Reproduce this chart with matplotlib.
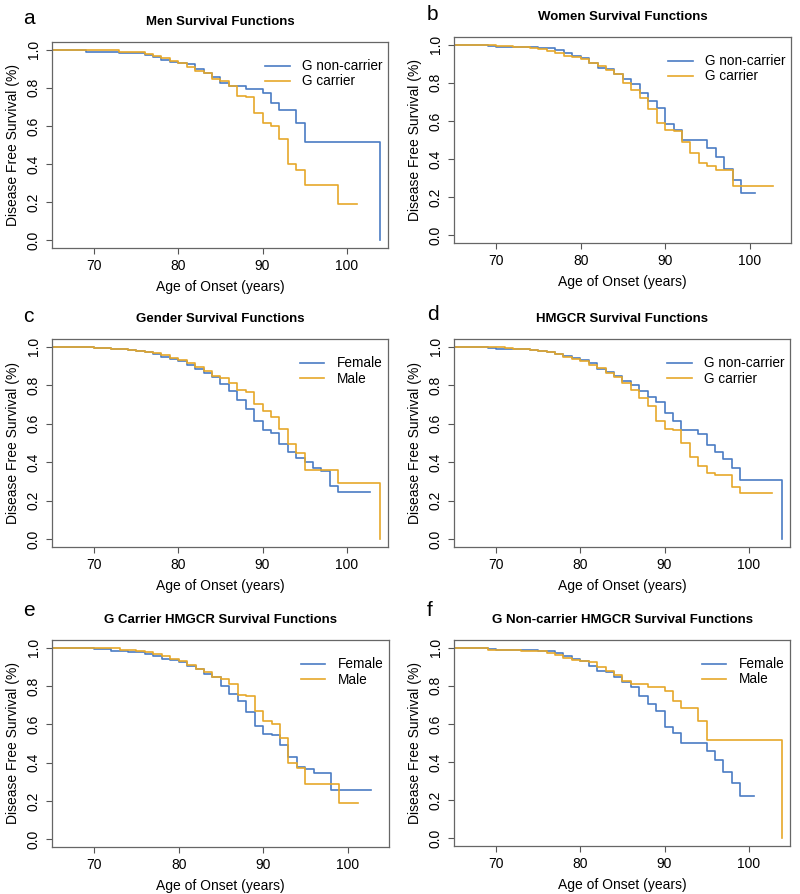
import numpy as np
import matplotlib.pyplot as plt

plt.rcParams['font.family'] = ['Liberation Sans', 'DejaVu Sans']

# Men, G non-carrier (panel a blue, panel f male)
men_nc_t = [65, 69, 73, 76, 77, 78, 79, 80, 81, 82, 83, 84, 85, 86, 88, 90, 91, 92, 94, 95, 104]
men_nc_s = [1.0, 0.99, 0.98, 0.97, 0.96, 0.945, 0.935, 0.93, 0.925, 0.90, 0.875, 0.855, 0.825, 0.81,
            0.795, 0.775, 0.72, 0.685, 0.615, 0.515, 0.0]
# Men, G carrier (panel a orange, panel e male)
men_c_t = [65, 73, 75, 76, 77, 78, 79, 80, 81, 82, 83, 84, 85, 86, 87, 88, 89, 90, 91, 92, 93, 94,
           95, 99, 101.2]
men_c_s = [1.0, 0.99, 0.985, 0.975, 0.965, 0.955, 0.94, 0.93, 0.91, 0.89, 0.875, 0.845, 0.835, 0.81,
           0.755, 0.75, 0.67, 0.615, 0.60, 0.53, 0.40, 0.37, 0.29, 0.19, 0.19]
# Women, G non-carrier (panel b blue, panel f female)
wom_nc_t = [65, 69, 70, 71, 75, 77, 78, 79, 80, 81, 82, 83, 84, 85, 86, 87, 88, 89, 90, 91, 92,
            95, 96, 97, 98, 99, 100.6]
wom_nc_s = [1.0, 0.995, 0.99, 0.985, 0.98, 0.97, 0.955, 0.94, 0.93, 0.905, 0.875, 0.87, 0.845,
            0.82, 0.795, 0.745, 0.705, 0.67, 0.585, 0.555, 0.50, 0.46, 0.41, 0.35, 0.29, 0.22, 0.22]
# Women, G carrier (panel b orange, panel e female)
wom_c_t = [65, 70, 72, 74, 75, 76, 77, 78, 79, 80, 81, 82, 83, 84, 85, 86, 87, 88, 89, 90, 91, 92,
           93, 94, 95, 96, 98, 102.8]
wom_c_s = [1.0, 0.993, 0.985, 0.98, 0.975, 0.965, 0.955, 0.94, 0.935, 0.925, 0.905, 0.89, 0.865,
           0.845, 0.80, 0.76, 0.72, 0.665, 0.59, 0.55, 0.545, 0.49, 0.43, 0.38, 0.365, 0.345, 0.26, 0.26]
# Gender, all (panel c)
fem_t = [65, 70, 72, 74, 75, 76, 77, 78, 79, 80, 81, 82, 83, 84, 85, 86, 87, 88, 89, 90, 91, 92,
         93, 94, 95, 96, 97, 98, 99, 102.8]
fem_s = [1.0, 0.995, 0.99, 0.985, 0.98, 0.97, 0.96, 0.945, 0.935, 0.925, 0.905, 0.885, 0.865,
         0.845, 0.805, 0.77, 0.725, 0.675, 0.615, 0.565, 0.55, 0.495, 0.455, 0.42, 0.40, 0.37,
         0.355, 0.275, 0.245, 0.245]
male_t = [65, 70, 72, 74, 75, 76, 77, 78, 79, 80, 81, 82, 83, 84, 85, 86, 87, 88, 89, 90, 91, 92,
          93, 94, 95, 99, 104]
male_s = [1.0, 0.995, 0.99, 0.985, 0.98, 0.975, 0.965, 0.955, 0.94, 0.93, 0.915, 0.895, 0.875,
          0.85, 0.835, 0.812, 0.775, 0.765, 0.705, 0.665, 0.635, 0.575, 0.495, 0.45, 0.36, 0.29, 0.0]
# HMGCR, all (panel d)
hm_nc_t = [65, 69, 70, 72, 74, 75, 76, 77, 78, 79, 80, 81, 82, 83, 84, 85, 86, 87, 88, 89, 90, 91,
           92, 94, 95, 96, 97, 98, 99, 104]
hm_nc_s = [1.0, 0.995, 0.99, 0.987, 0.983, 0.977, 0.97, 0.96, 0.95, 0.94, 0.93, 0.915, 0.885,
           0.87, 0.85, 0.82, 0.80, 0.77, 0.74, 0.715, 0.655, 0.615, 0.565, 0.545, 0.49, 0.455,
           0.415, 0.37, 0.31, 0.0]
hm_c_t = [65, 71, 72, 74, 75, 76, 77, 78, 79, 80, 81, 82, 83, 84, 85, 86, 87, 88, 89, 90, 91, 92,
          93, 94, 95, 96, 98, 99, 102.8]
hm_c_s = [1.0, 0.995, 0.99, 0.982, 0.978, 0.97, 0.96, 0.945, 0.935, 0.925, 0.905, 0.89, 0.865,
          0.845, 0.81, 0.775, 0.735, 0.69, 0.615, 0.575, 0.565, 0.50, 0.425, 0.38, 0.345, 0.335,
          0.27, 0.24, 0.24]

letters = ['a', 'b', 'c', 'd', 'e', 'f']
titles = ['Men Survival Functions', 'Women Survival Functions', 'Gender Survival Functions',
          'HMGCR Survival Functions', 'G Carrier HMGCR Survival Functions',
          'G Non-carrier HMGCR Survival Functions']
legends = [['G non-carrier', 'G carrier'], ['G non-carrier', 'G carrier'], ['Female', 'Male'],
           ['G non-carrier', 'G carrier'], ['Female', 'Male'], ['Female', 'Male']]
curves = [[(men_nc_t, men_nc_s), (men_c_t, men_c_s)],
          [(wom_nc_t, wom_nc_s), (wom_c_t, wom_c_s)],
          [(fem_t, fem_s), (male_t, male_s)],
          [(hm_nc_t, hm_nc_s), (hm_c_t, hm_c_s)],
          [(wom_c_t, wom_c_s), (men_c_t, men_c_s)],
          [(wom_nc_t, wom_nc_s), (men_nc_t, men_nc_s)]]

blue = '#4a7cc4'
orange = '#e6a82a'
W, H = 800, 894
# axes boxes in pixels: left, top, right, bottom
boxes = [(52, 42, 388, 248), (454, 37, 791, 243),
         (52, 339, 388, 547), (454, 339, 790, 547),
         (52, 640, 389, 847), (454, 640, 790, 846)]
letter_pos = [(23, 18), (427, 15), (23, 317), (427, 315), (23, 610), (427, 610)]

fig = plt.figure(figsize=(8, 8.94), dpi=100)
for i in range(6):
    l, t, r, b = boxes[i]
    ax = fig.add_axes([l / W, 1 - b / H, (r - l) / W, (b - t) / H])
    for (tt, ss), col, lab in zip(curves[i], [blue, orange], legends[i]):
        ax.step(tt, ss, where='post', color=col, lw=1.2, label=lab)
    ax.set_xlim(65, 104.9)
    ax.set_ylim(-0.04, 1.04)
    ax.set_xticks([70, 80, 90, 100])
    ax.set_yticks([0, 0.2, 0.4, 0.6, 0.8, 1.0])
    ax.set_yticklabels(['0.0', '0.2', '0.4', '0.6', '0.8', '1.0'], rotation=90, va='center')
    ax.tick_params(labelsize=10, length=4, color='#555555', width=0.8, pad=4)
    for sp in ax.spines.values():
        sp.set_color('#666666')
        sp.set_linewidth(0.9)
    ax.set_xlabel('Age of Onset (years)', fontsize=10, labelpad=5)
    ax.set_ylabel('Disease Free Survival (%)', fontsize=10, labelpad=5)
    ax.set_title(titles[i], fontsize=9.5, fontweight='bold', pad=12)
    ax.legend(loc='upper right', bbox_to_anchor=(1.02, 0.975), frameon=False, fontsize=9.8,
              handlelength=1.8, handletextpad=0.9, labelspacing=0.08)
    lx, ly = letter_pos[i]
    fig.text(lx / W, 1 - ly / H, letters[i], fontsize=15, va='center', ha='left')

fig.savefig('out.png', dpi=100)
